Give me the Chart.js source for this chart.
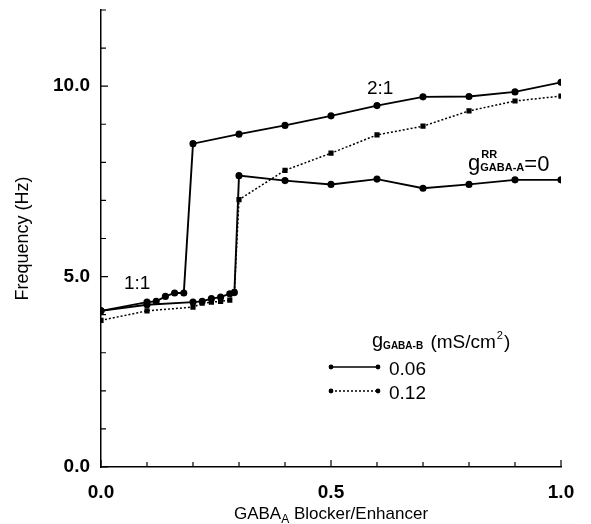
<!DOCTYPE html>
<html>
<head>
<meta charset="utf-8">
<script src="https://cdn.jsdelivr.net/npm/chart.js@4/dist/chart.umd.min.js"></script>
<style>
  html, body { margin: 0; padding: 0; background: #fff; }
  #wrap { width: 591px; height: 524px; }
</style>
</head>
<body>
<div id="wrap"><canvas id="freq-chart" width="591" height="524"></canvas></div>
<script>
// blocker/enhancer values for each curve
const xTwoToOne = [0, 0.1, 0.12, 0.14, 0.16, 0.18, 0.2, 0.3, 0.4, 0.5, 0.6, 0.7, 0.8, 0.9, 1.0];
const yTwoToOne = [4.1, 4.33, 4.35, 4.48, 4.57, 4.57, 8.49, 8.74, 8.97, 9.22, 9.49, 9.72, 9.73, 9.85, 10.1];

const xNoRR = [0, 0.1, 0.2, 0.22, 0.24, 0.26, 0.28, 0.29, 0.3, 0.4, 0.5, 0.6, 0.7, 0.8, 0.9, 1.0];
const yNoRR = [4.1, 4.26, 4.33, 4.35, 4.42, 4.46, 4.55, 4.58, 7.65, 7.52, 7.42, 7.56, 7.32, 7.42, 7.54, 7.54];

const xHighB = [0, 0.1, 0.2, 0.22, 0.24, 0.26, 0.28, 0.29, 0.3, 0.4, 0.5, 0.6, 0.7, 0.8, 0.9, 1.0];
const yHighB = [3.85, 4.1, 4.2, 4.3, 4.33, 4.35, 4.38, 4.6, 7.02, 7.79, 8.24, 8.72, 8.95, 9.35, 9.61, 9.74];

const legendLabels = ['0.06', '0.12'];

const FONT = "'Liberation Sans', Arial, Helvetica, sans-serif";

function toPoints(xs, ys) {
  return xs.map((x, i) => ({ x: x, y: ys[i] }));
}

function isMajor(v, step) {
  const r = v / step;
  return Math.abs(r - Math.round(r)) < 1e-6;
}

// inward tick marks, annotations and legend
const extras = {
  id: 'extras',
  afterDraw(chart) {
    const ctx = chart.ctx;
    const xs = chart.scales.x;
    const ys = chart.scales.y;
    const area = chart.chartArea;
    ctx.save();
    ctx.strokeStyle = '#000';
    ctx.lineWidth = 1.2;
    ctx.beginPath();
    xs.ticks.forEach(t => {
      const px = xs.getPixelForValue(t.value);
      const len = isMajor(t.value, 0.5) ? 7 : 5;
      ctx.moveTo(px, area.bottom);
      ctx.lineTo(px, area.bottom - len);
    });
    ys.ticks.forEach(t => {
      const py = ys.getPixelForValue(t.value);
      const len = isMajor(t.value, 5) ? 7 : 5;
      ctx.moveTo(area.left, py);
      ctx.lineTo(area.left + len, py);
    });
    ctx.stroke();

    ctx.fillStyle = '#000';
    ctx.textBaseline = 'alphabetic';
    ctx.textAlign = 'left';

    // x axis title with subscript
    const t1 = 'GABA', t2 = 'A', t3 = ' Blocker/Enhancer';
    ctx.font = '17px ' + FONT;
    const w1 = ctx.measureText(t1).width;
    const w3 = ctx.measureText(t3).width;
    ctx.font = '12px ' + FONT;
    const w2 = ctx.measureText(t2).width;
    let sx = (area.left + area.right) / 2 - (w1 + w2 + w3) / 2;
    const by = 519;
    ctx.font = '17px ' + FONT;
    ctx.fillText(t1, sx, by);
    ctx.font = '12px ' + FONT;
    ctx.fillText(t2, sx + w1, by + 4);
    ctx.font = '17px ' + FONT;
    ctx.fillText(t3, sx + w1 + w2, by);

    // ratio labels
    ctx.font = '19px ' + FONT;
    ctx.fillText('1:1', xs.getPixelForValue(0.05), ys.getPixelForValue(4.68));
    ctx.fillText('2:1', xs.getPixelForValue(0.578), ys.getPixelForValue(9.79));

    // g^RR_GABA-A = 0
    const gx = xs.getPixelForValue(0.798);
    const gy = ys.getPixelForValue(7.8);
    ctx.font = '22px ' + FONT;
    ctx.fillText('g', gx, gy);
    let gw = ctx.measureText('g').width;
    ctx.font = 'bold 11px ' + FONT;
    ctx.fillText('RR', gx + gw + 1, gy - 12);
    ctx.fillText('GABA-A', gx + gw, gy + 1);
    let sw = ctx.measureText('GABA-A').width;
    ctx.font = '22px ' + FONT;
    ctx.fillText('=0', gx + gw + sw, gy + 1);

    // legend title
    const lx = 372, ly = 348;
    ctx.font = '20px ' + FONT;
    ctx.fillText('g', lx, ly - 1);
    gw = ctx.measureText('g').width;
    ctx.font = 'bold 10px ' + FONT;
    ctx.fillText('GABA-B', lx + gw, ly + 1);
    sw = ctx.measureText('GABA-B').width;
    ctx.font = '19px ' + FONT;
    const u1 = ' (mS/cm';
    ctx.fillText(u1, lx + gw + sw + 2, ly);
    const uw = ctx.measureText(u1).width;
    ctx.font = '11px ' + FONT;
    ctx.fillText('2', lx + gw + sw + uw + 3, ly - 9);
    const tw = ctx.measureText('2').width;
    ctx.font = '19px ' + FONT;
    ctx.fillText(')', lx + gw + sw + uw + tw + 4, ly);

    // legend entries
    const rows = [367, 391];
    rows.forEach((ry, i) => {
      ctx.beginPath();
      ctx.lineWidth = i === 0 ? 1.6 : 1.3;
      ctx.setLineDash(i === 0 ? [] : [2, 2]);
      ctx.moveTo(331, ry);
      ctx.lineTo(378, ry);
      ctx.stroke();
      ctx.setLineDash([]);
      [331, 378].forEach(px => {
        ctx.beginPath();
        ctx.arc(px, ry, 2.4, 0, Math.PI * 2);
        ctx.fill();
      });
      ctx.font = '19px ' + FONT;
      ctx.fillText(legendLabels[i], 389, ry + 8);
    });
    ctx.restore();
  }
};

const ctxFreq = document.getElementById('freq-chart');

new Chart(ctxFreq, {
  type: 'scatter',
  data: {
    datasets: [
      {
        label: '2:1',
        data: toPoints(xTwoToOne, yTwoToOne),
        showLine: true,
        borderColor: '#000',
        backgroundColor: '#000',
        borderWidth: 1.9,
        pointRadius: 2.6,
        pointStyle: 'circle'
      },
      {
        label: 'gRR=0',
        data: toPoints(xNoRR, yNoRR),
        showLine: true,
        borderColor: '#000',
        backgroundColor: '#000',
        borderWidth: 1.9,
        pointRadius: 2.6,
        pointStyle: 'circle'
      },
      {
        label: '0.12',
        data: toPoints(xHighB, yHighB),
        showLine: true,
        borderColor: '#000',
        backgroundColor: '#000',
        borderWidth: 1.5,
        borderDash: [2, 2],
        pointRadius: 2.6,
        pointStyle: 'rect'
      }
    ]
  },
  options: {
    responsive: false,
    animation: false,
    layout: { padding: { top: 10, right: 30, left: 0, bottom: 0 } },
    plugins: {
      legend: { display: false },
      tooltip: { enabled: false }
    },
    scales: {
      x: {
        type: 'linear',
        min: 0,
        max: 1,
        grid: { display: true, drawOnChartArea: false, drawTicks: false },
        border: { display: true, color: '#000', width: 1.5 },
        ticks: {
          stepSize: 0.1,
          padding: 14,
          color: '#000',
          font: { family: FONT, size: 19, weight: 'bold' },
          maxRotation: 0,
          autoSkip: false,
          callback: v => isMajor(v, 0.5) ? v.toFixed(1) : ''
        },
        afterFit: s => { s.height = 57; s.paddingRight = 0; s.paddingLeft = 0; }
      },
      y: {
        min: 0,
        max: 12,
        grid: { display: true, drawOnChartArea: false, drawTicks: false },
        border: { display: true, color: '#000', width: 1.5 },
        ticks: {
          stepSize: 1,
          padding: 11,
          color: '#000',
          font: { family: FONT, size: 19, weight: 'bold' },
          autoSkip: false,
          callback: v => isMajor(v, 5) ? v.toFixed(1) : ''
        },
        title: {
          display: true,
          text: 'Frequency (Hz)',
          color: '#000',
          font: { family: FONT, size: 18 },
          padding: { top: 12, bottom: 0 }
        },
        afterFit: s => { s.width = 101; s.paddingTop = 0; s.paddingBottom = 0; }
      }
    }
  },
  plugins: [extras]
});
</script>
</body>
</html>
